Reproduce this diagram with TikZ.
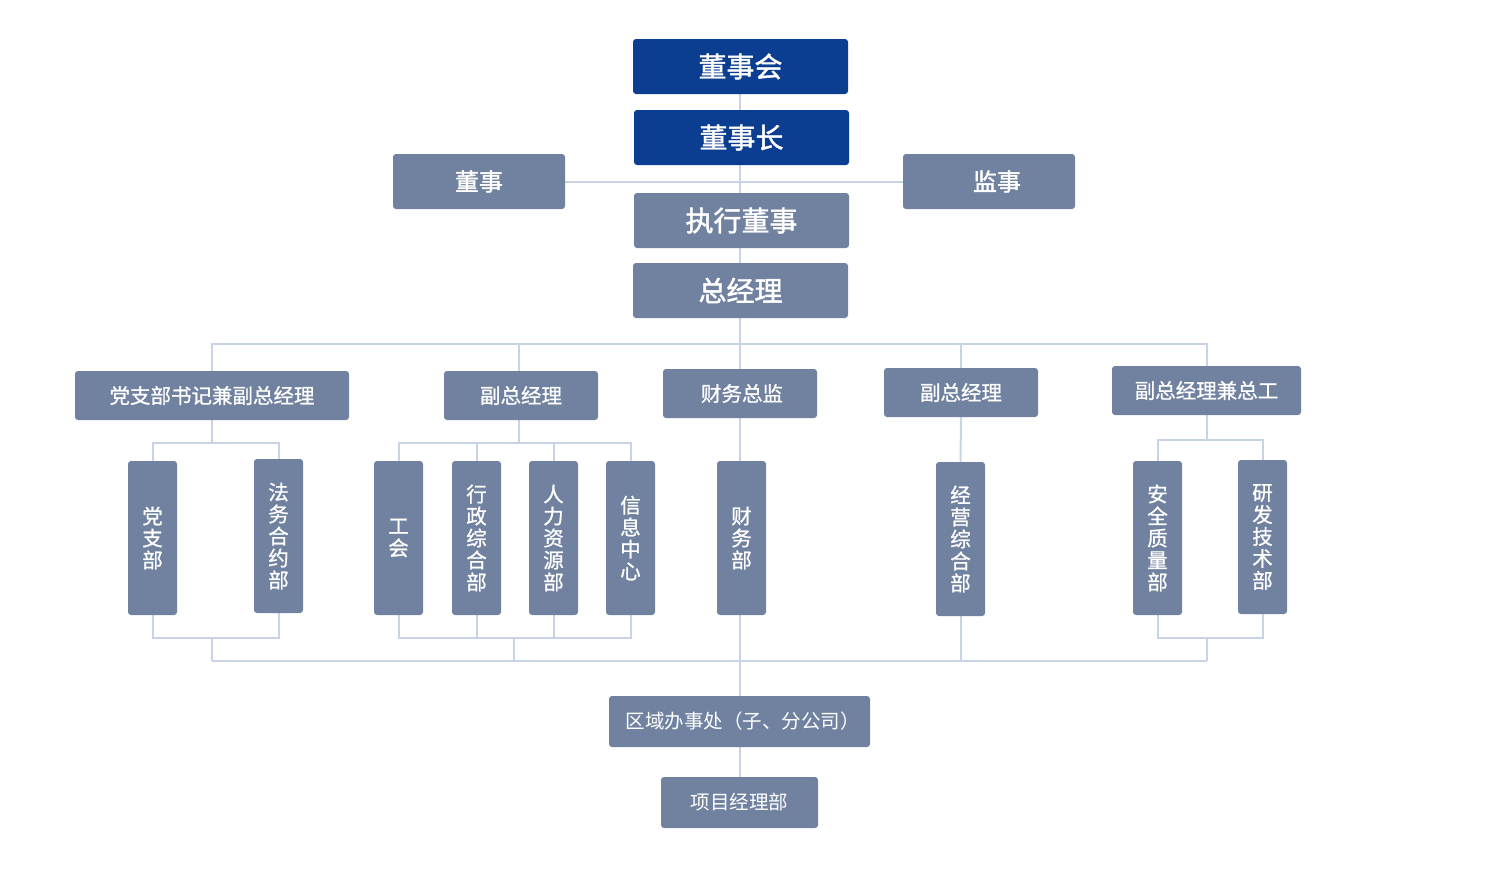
\documentclass[tikz,border=0pt]{standalone}
\usepackage{fontspec}
\newfontfamily\cjk{Noto Sans CJK SC}
\newfontfamily\cjkm[FakeBold=0.9]{Noto Sans CJK SC}
\newfontfamily\cjkb[FakeBold=1.6]{Noto Sans CJK SC}
\usetikzlibrary{backgrounds}
\definecolor{navy}{HTML}{0B3D91}
\definecolor{slate}{HTML}{7082A0}
\definecolor{conn}{HTML}{C8D3E8}
\tikzset{
  box/.style={rectangle, rounded corners=3pt, fill=slate, text=white, inner sep=0pt, align=center},
  topbox/.style={box, fill=navy, minimum width=215pt, minimum height=55pt, font=\cjkb\fontsize{28}{30}\selectfont},
  bigbox/.style={box, minimum width=215pt, minimum height=55pt, font=\cjkb\fontsize{28}{30}\selectfont},
  sidebox/.style={box, minimum width=172pt, minimum height=55pt, font=\cjkb\fontsize{24}{26}\selectfont},
  midbox/.style={box, minimum height=49pt, font=\cjkm\fontsize{20.5}{22}\selectfont},
  vbox/.style={box, minimum width=49pt, minimum height=154pt, font=\cjkm\fontsize{20.5}{22}\selectfont},
  lowbox/.style={box, minimum height=51pt, font=\cjk\fontsize{19.5}{22}\selectfont},
  link/.style={draw=conn, line width=2pt}
}
\begin{document}
\begin{tikzpicture}[x=1pt,y=-1pt]
\useasboundingbox (0,0) rectangle (1490,884);
% top
\node[topbox] (hui) at (740.5,66.5) {董事会};
\node[topbox] (zhang) at (741.5,137.5) {董事长};
\node[sidebox] (dongshi) at (479,181.5) {董事};
\node[sidebox] (jianshi) at (989,181.5) {\hspace{16pt}监事};
\node[bigbox] (zhixing) at (741.5,220.5) {执行董事};
\node[bigbox] (zjl) at (740.5,290.5) {总经理};
% level 2
\node[midbox, minimum width=274pt] (fa) at (212,395.5) {党支部书记兼副总经理};
\node[midbox, minimum width=154pt] (fb) at (521,395.5) {副总经理};
\node[midbox, minimum width=154pt] (fc) at (740,393.5) {\hspace{4pt}财务总监};
\node[midbox, minimum width=154pt] (fd) at (961,392.5) {副总经理};
\node[midbox, minimum width=189pt] (fe) at (1206.5,390.5) {副总经理兼总工};
% level 3
\node[vbox] (d1) at (152.5,538) {党\\支\\部};
\node[vbox] (d2) at (278.5,536) {法\\务\\合\\约\\部};
\node[vbox] (d3) at (398.5,538) {工\\会};
\node[vbox] (d4) at (476.5,538) {行\\政\\综\\合\\部};
\node[vbox] (d5) at (553.5,538) {人\\力\\资\\源\\部};
\node[vbox] (d6) at (630.5,538) {信\\息\\中\\心};
\node[vbox] (d7) at (741.5,538) {财\\务\\部};
\node[vbox] (d8) at (960.5,539) {经\\营\\综\\合\\部};
\node[vbox] (d9) at (1157.5,538) {安\\全\\质\\量\\部};
\node[vbox] (d10) at (1262.5,537) {研\\发\\技\\术\\部};
% bottom
\node[lowbox, minimum width=261pt] (qy) at (739.5,721.5) {\hspace{6pt}区域办事处（子、分公司）};
\node[lowbox, minimum width=157pt] (xm) at (739.5,802.5) {项目经理部};
% coordinates
\coordinate (bus) at (740,344);
\coordinate (g1t) at (0,443);
\coordinate (g5t) at (0,440);
\coordinate (gb) at (0,638);
\coordinate (bot) at (0,661);
\coordinate (g2t) at (519,420);
\coordinate (g2b) at (514,638);
\begin{scope}[on background layer]
\draw[link] (bus |- hui.south) -- (bus |- zhixing.north);
\draw[link] (bus |- zhixing.south) -- (bus |- zjl.north);
\draw[link] (dongshi.east) -- (jianshi.west);
\draw[link] (bus |- zjl.south) -- (bus);
\draw[link] (fa.north) |- (fe.north |- bus) -- (fe.north);
\draw[link] (g2t |- bus) -- (g2t);
\draw[link] (fd.north) -- (fd.north |- bus);
\draw[link] (bus) -- (bus |- fc.north);
% group 1
\draw[link] (fa.south) -- (fa.south |- g1t);
\draw[link] (d1.north) |- (d2.north |- g1t) -- (d2.north);
\draw[link] (d1.south) |- (d2.south |- gb) -- (d2.south);
\draw[link] (fa.south |- gb) -- (fa.south |- bot);
% group 2
\draw[link] (g2t) -- (g2t |- g1t);
\draw[link] (d3.north) |- (d6.north |- g1t) -- (d6.north);
\draw[link] (d4.north) -- (d4.north |- g1t);
\draw[link] (d5.north) -- (d5.north |- g1t);
\draw[link] (d3.south) |- (d6.south |- gb) -- (d6.south);
\draw[link] (d4.south) -- (d4.south |- gb);
\draw[link] (d5.south) -- (d5.south |- gb);
\draw[link] (g2b) -- (g2b |- bot);
% finance
\draw[link] (bus |- fc.south) -- (bus |- d7.north);
\draw[link] (bus |- d7.south) -- (bus |- qy.north);
\draw[link] (bus |- qy.south) -- (bus |- xm.north);
% group 4
\draw[link] (fd.south) -- (d8.north);
\draw[link] (d8.south) -- (d8.south |- bot);
% group 5
\draw[link] (fe.south) -- (fe.south |- g5t);
\draw[link] (d9.north) |- (d10.north |- g5t) -- (d10.north);
\draw[link] (d9.south) |- (d10.south |- gb) -- (d10.south);
\draw[link] (fe.south |- gb) -- (fe.south |- bot);
% bottom bus
\draw[link] (fa.south |- bot) -- (fe.south |- bot);
\end{scope}
\end{tikzpicture}
\end{document}
